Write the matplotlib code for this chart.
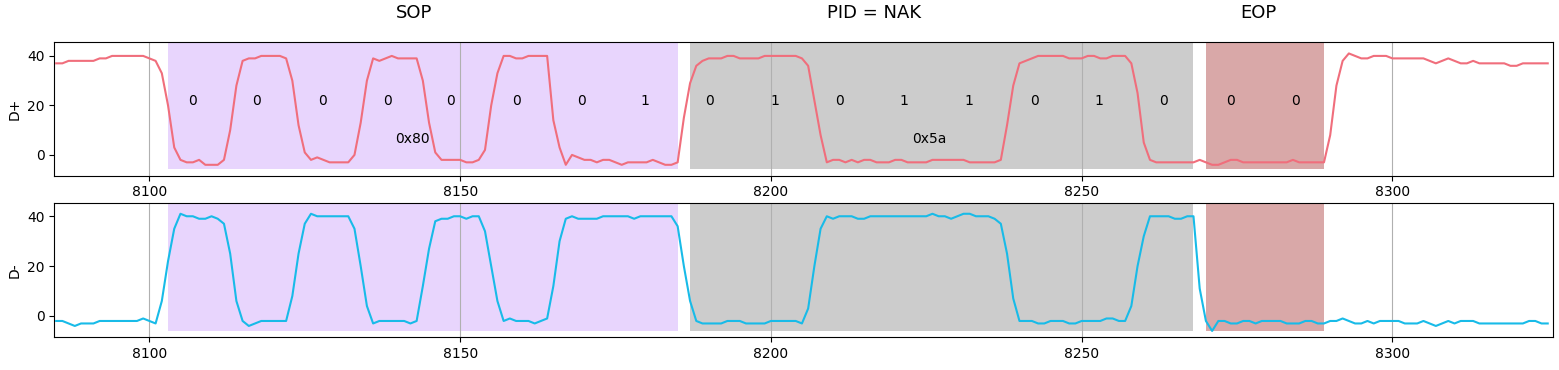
import numpy as np
import matplotlib
matplotlib.use("Agg")
import matplotlib.pyplot as plt
from matplotlib.transforms import blended_transform_factory

# ---------------- data ----------------
x_start = 8085
d_plus = [
    37, 37, 38, 38, 38, 38, 38, 39, 39, 40,  # 8085-8094
    40, 40, 40, 40, 40, 39, 38, 33, 20, 3,   # 8095-8104
    -2, -3, -3, -2, -4, -4, -4, -2, 10, 28,  # 8105-8114
    38, 39, 39, 40, 40, 40, 40, 39, 30, 12,  # 8115-8124
    1, -2, -1, -2, -3, -3, -3, -3, 0, 13,    # 8125-8134
    30, 39, 38, 39, 40, 39, 39, 39, 39, 30,  # 8135-8144
    13, 1, -2, -2, -2, -2, -3, -3, -2, 2,    # 8145-8154
    20, 33, 40, 40, 39, 39, 40, 40, 40, 40,  # 8155-8164
    14, 3, -4, 0, -1, -2, -2, -3, -2, -2,    # 8165-8174
    -3, -4, -3, -3, -3, -3, -2, -3, -4, -4,  # 8175-8184
    -3, 15, 29, 36, 38, 39, 39, 39, 40, 40,  # 8185-8194
    39, 39, 39, 39, 40, 40, 40, 40, 40, 40,  # 8195-8204
    39, 36, 22, 8, -3, -2, -2, -3, -2, -3,   # 8205-8214
    -2, -2, -3, -3, -3, -2, -2, -3, -3, -3,  # 8215-8224
    -3, -2, -2, -2, -2, -2, -2, -3, -3, -3,  # 8225-8234
    -3, -3, -2, 12, 28, 37, 38, 39, 40, 40,  # 8235-8244
    40, 40, 40, 39, 39, 39, 40, 40, 39, 39,  # 8245-8254
    40, 40, 40, 37, 25, 5, -2, -3, -3, -3,   # 8255-8264
    -3, -3, -3, -3, -2, -3, -4, -4, -3, -2,  # 8265-8274
    -2, -3, -3, -3, -3, -3, -3, -3, -3, -2,  # 8275-8284
    -3, -3, -3, -3, -3, 8, 28, 38, 41, 40,   # 8285-8294
    39, 39, 40, 40, 40, 39, 39, 39, 39, 39,  # 8295-8304
    39, 38, 37, 38, 39, 38, 37, 37, 38, 37,  # 8305-8314
    37, 37, 37, 37, 36, 36, 37, 37, 37, 37,  # 8315-8324
    37,                                       # 8325
]
d_minus = [
    -2, -2, -3, -4, -3, -3, -3, -2, -2, -2,  # 8085-8094
    -2, -2, -2, -2, -1, -2, -3, 6, 22, 35,   # 8095-8104
    41, 40, 40, 39, 39, 40, 39, 37, 25, 6,   # 8105-8114
    -2, -4, -3, -2, -2, -2, -2, -2, 8, 25,   # 8115-8124
    37, 41, 40, 40, 40, 40, 40, 40, 35, 20,  # 8125-8134
    4, -3, -2, -2, -2, -2, -2, -3, -2, 12,   # 8135-8144
    27, 38, 39, 39, 40, 40, 39, 40, 40, 34,  # 8145-8154
    20, 6, -2, -1, -2, -2, -2, -3, -2, -1,   # 8155-8164
    12, 30, 39, 40, 39, 39, 39, 39, 40, 40,  # 8165-8174
    40, 40, 40, 39, 40, 40, 40, 40, 40, 40,  # 8175-8184
    36, 20, 6, -2, -3, -3, -3, -3, -2, -2,   # 8185-8194
    -2, -3, -3, -3, -3, -2, -2, -2, -2, -2,  # 8195-8204
    -3, 3, 20, 35, 40, 39, 40, 40, 40, 39,   # 8205-8214
    39, 40, 40, 40, 40, 40, 40, 40, 40, 40,  # 8215-8224
    40, 41, 40, 40, 39, 40, 41, 41, 40, 40,  # 8225-8234
    40, 39, 37, 25, 7, -2, -2, -2, -3, -3,   # 8235-8244
    -2, -2, -2, -3, -3, -2, -2, -2, -2, -1,  # 8245-8254
    -1, -2, -2, 4, 20, 32, 40, 40, 40, 40,   # 8255-8264
    39, 39, 40, 40, 11, -2, -6, -2, -2, -3,  # 8265-8274
    -3, -2, -2, -3, -2, -2, -2, -2, -3, -3,  # 8275-8284
    -3, -2, -2, -3, -3, -2, -2, -1, -2, -3,  # 8285-8294
    -3, -2, -3, -2, -2, -2, -2, -3, -3, -3,  # 8295-8304
    -2, -3, -4, -3, -2, -3, -2, -2, -2, -3,  # 8305-8314
    -3, -3, -3, -3, -3, -3, -3, -2, -2, -3,  # 8315-8324
    -3,                                       # 8325
]
x = np.arange(x_start, x_start + len(d_plus))

segment_names = ["SOP", "PID = NAK", "EOP"]
segment_starts = [8103, 8187, 8270]
segment_ends = [8185, 8268, 8289]
segment_colors = ["#e8d5fd", "#cccccc", "#d9a8a8"]
title_x = [8142.6, 8216.6, 8278.4]

bit_labels = ["0", "0", "0", "0", "0", "0", "0", "1",
              "0", "1", "0", "1", "1", "0", "1", "0",
              "0", "0"]
bit_x = [8106.9, 8117.3, 8127.8, 8138.25, 8148.5, 8159.0, 8169.45, 8179.75,
         8190.2, 8200.7, 8211.1, 8221.4, 8231.9, 8242.35, 8252.7, 8263.15,
         8273.9, 8284.35]
hex_labels = ["0x80", "0x5a"]
hex_x = [8142.4, 8225.5]

# ---------------- figure ----------------
W, H = 1559, 370
fig = plt.figure(figsize=(W / 100, H / 100), dpi=100)
ax1 = fig.add_axes([54.3 / W, 1 - 175.7 / H, (1552.7 - 54.3) / W, (175.7 - 42.3) / H])
ax2 = fig.add_axes([54.3 / W, 1 - 337.3 / H, (1552.7 - 54.3) / W, (337.3 - 203.3) / H])

xlim = (8084.7, 8325.8)
for ax, data, color, lab, ylim in [
    (ax1, d_plus, "#f06e7c", "D+", (-8.4, 45.5)),
    (ax2, d_minus, "#18bbe8", "D-", (-8.55, 45.2)),
]:
    ax.set_xlim(*xlim)
    ax.set_ylim(*ylim)
    shade_bottom = -5.85
    fr = (shade_bottom - ylim[0]) / (ylim[1] - ylim[0])
    for s, e, c in zip(segment_starts, segment_ends, segment_colors):
        ax.axvspan(s, e, ymin=fr, ymax=1, color=c, lw=0, zorder=1)
    ax.plot(x, data, color=color, lw=1.5, zorder=3)
    ax.grid(axis="x", color="#b0b0b0", lw=0.8)
    ax.set_yticks([0, 20, 40])
    ax.set_xticks([8100, 8150, 8200, 8250, 8300])
    ax.set_ylabel(lab)

for lbl, bx in zip(bit_labels, bit_x):
    ax1.text(bx, 20, lbl, ha="center", va="baseline", fontsize=10, zorder=4)
for lbl, hx in zip(hex_labels, hex_x):
    ax1.text(hx, 5, lbl, ha="center", va="baseline", fontsize=10, zorder=4)

trans = blended_transform_factory(ax1.transData, ax1.transAxes)
for name, tx in zip(segment_names, title_x):
    ax1.text(tx, 1 + 24 / 133.4, name, ha="center", va="baseline",
             fontsize=13, transform=trans)

fig.savefig("out.png", dpi=100)
